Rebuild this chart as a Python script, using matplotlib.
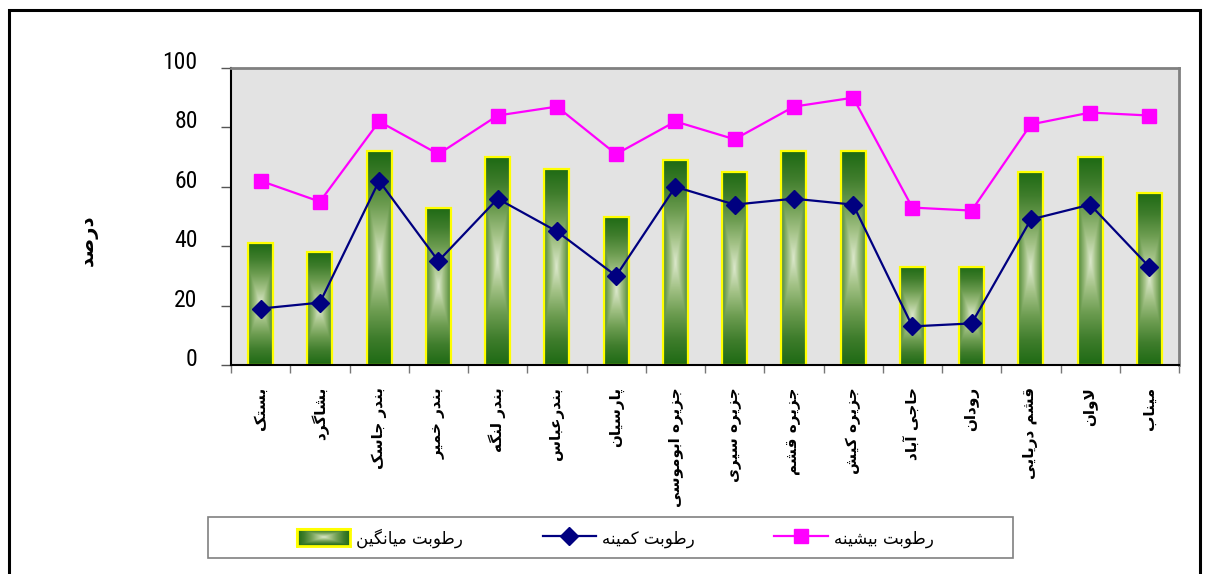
import numpy as np
import matplotlib
matplotlib.use('Agg')
import matplotlib.pyplot as plt
from matplotlib.patches import Rectangle
from matplotlib.lines import Line2D
from matplotlib.colors import LinearSegmentedColormap
from matplotlib.transforms import ScaledTranslation
from matplotlib import font_manager

# data
stations = ['بستک', 'بشاگرد', 'بندر جاسک', 'بندر خمیر', 'بندر لنگه', 'بندرعباس', 'پارسیان',
            'جزیره ابوموسی', 'جزیره سیری', 'جزیره قشم', 'جزیره کیش', 'حاجی آباد', 'رودان',
            'قشم دریایی', 'لاوان', 'میناب']
hum_mean = [41, 38, 72, 53, 70, 66, 50, 69, 65, 72, 72, 33, 33, 65, 70, 58]
hum_min = [19, 21, 62, 35, 56, 45, 30, 60, 54, 56, 54, 13, 14, 49, 54, 33]
hum_max = [62, 55, 82, 71, 84, 87, 71, 82, 76, 87, 90, 53, 52, 81, 85, 84]
yticks = [0, 20, 40, 60, 80, 100]
ylabel = 'درصد'
legend_labels = ['رطوبت میانگین', 'رطوبت کمینه', 'رطوبت بیشینه']

# matplotlib has no arabic shaping, so pick presentation forms by hand
# (isolated, final, initial, medial)
FORMS = {
    'ا': ('\uFE8D', '\uFE8E', None, None),
    'آ': ('\uFE81', '\uFE82', None, None),
    'ب': ('\uFE8F', '\uFE90', '\uFE91', '\uFE92'),
    'پ': ('\uFB56', '\uFB57', '\uFB58', '\uFB59'),
    'ت': ('\uFE95', '\uFE96', '\uFE97', '\uFE98'),
    'ج': ('\uFE9D', '\uFE9E', '\uFE9F', '\uFEA0'),
    'ح': ('\uFEA1', '\uFEA2', '\uFEA3', '\uFEA4'),
    'خ': ('\uFEA5', '\uFEA6', '\uFEA7', '\uFEA8'),
    'د': ('\uFEA9', '\uFEAA', None, None),
    'ر': ('\uFEAD', '\uFEAE', None, None),
    'ز': ('\uFEAF', '\uFEB0', None, None),
    'س': ('\uFEB1', '\uFEB2', '\uFEB3', '\uFEB4'),
    'ش': ('\uFEB5', '\uFEB6', '\uFEB7', '\uFEB8'),
    'ص': ('\uFEB9', '\uFEBA', '\uFEBB', '\uFEBC'),
    'ط': ('\uFEC1', '\uFEC2', '\uFEC3', '\uFEC4'),
    'ع': ('\uFEC9', '\uFECA', '\uFECB', '\uFECC'),
    'ق': ('\uFED5', '\uFED6', '\uFED7', '\uFED8'),
    'ک': ('\uFB8E', '\uFB8F', '\uFB90', '\uFB91'),
    'گ': ('\uFB92', '\uFB93', '\uFB94', '\uFB95'),
    'ل': ('\uFEDD', '\uFEDE', '\uFEDF', '\uFEE0'),
    'م': ('\uFEE1', '\uFEE2', '\uFEE3', '\uFEE4'),
    'ن': ('\uFEE5', '\uFEE6', '\uFEE7', '\uFEE8'),
    'ه': ('\uFEE9', '\uFEEA', '\uFEEB', '\uFEEC'),
    'و': ('\uFEED', '\uFEEE', None, None),
    'ی': ('\uFBFC', '\uFBFD', '\uFBFE', '\uFBFF'),
}
LAMALEF = {'ا': ('\uFEFB', '\uFEFC'), 'آ': ('\uFEF5', '\uFEF6')}


def shape(text):
    out = []
    i, n = 0, len(text)
    while i < n:
        c = text[i]
        if c not in FORMS:
            out.append(c)
            i += 1
            continue
        prev = text[i - 1] if i > 0 else None
        join_prev = prev in FORMS and FORMS[prev][2] is not None
        if c == 'ل' and i + 1 < n and text[i + 1] in LAMALEF:
            lig = LAMALEF[text[i + 1]]
            out.append(lig[1] if join_prev else lig[0])
            i += 2
            continue
        nxt = text[i + 1] if i + 1 < n else None
        join_next = FORMS[c][2] is not None and nxt in FORMS
        iso, fin, ini, med = FORMS[c]
        if join_prev and join_next:
            out.append(med)
        elif join_prev:
            out.append(fin)
        elif join_next:
            out.append(ini)
        else:
            out.append(iso)
        i += 1
    return ''.join(reversed(out))


# narrow font for the y numbers if one is around
names = {f.name for f in font_manager.fontManager.ttflist}
narrow = [n for n in ['Liberation Sans Narrow', 'Arial Narrow', 'Roboto Condensed',
                      'DejaVu Sans Condensed'] if n in names]
num_font = narrow[0] if narrow else 'Liberation Sans'

W, H = 1211, 574
fig = plt.figure(figsize=(W / 100, H / 100), dpi=100)
ax = fig.add_axes([231 / W, 1 - 365 / H, (1179 - 231) / W, (365 - 68) / H])
ax.set_facecolor('#e3e3e3')

x = np.arange(len(stations))
bw = 0.42
bars = ax.bar(x, hum_mean, width=bw, color='#5a8f40', edgecolor='none', zorder=2)

# gradient fill for the bars
gcm = LinearSegmentedColormap.from_list('g', ['#dce8cc', '#a3c286', '#6c9c50', '#3f7d2c', '#1e6a14'])
uu, vv = np.meshgrid(np.linspace(-1, 1, 40), np.linspace(-1, 1, 200))
grad = np.maximum(np.abs(vv), 0.62 * np.abs(uu))
for b in bars:
    x0, w, h = b.get_x(), b.get_width(), b.get_height()
    im = ax.imshow(grad, cmap=gcm, vmin=0, vmax=1, extent=(x0, x0 + w, 0, h),
                   aspect='auto', interpolation='bilinear', zorder=2.1)
    im.set_clip_path(b)
ax.bar(x, hum_mean, width=bw, color='none', edgecolor='#ffff00', linewidth=1.6, zorder=2.2)

ax.plot(x, hum_max, color='#ff00ff', lw=1.6, marker='s', ms=10, zorder=3)
ax.plot(x, hum_min, color='#000080', lw=1.6, marker='D', ms=9, zorder=3)

ax.set_xlim(-0.5, len(stations) - 0.5)
ax.set_ylim(0, 100)
ax.set_aspect('auto')

ax.set_yticks(yticks)
ax.tick_params(axis='y', length=7, width=1, color='#555555', pad=17)
for lab in ax.get_yticklabels():
    lab.set_fontfamily([num_font, 'DejaVu Sans'])
    lab.set_fontsize(17 if narrow else 14)
    lab.set_transform(lab.get_transform() + ScaledTranslation(0, 0.08, fig.dpi_scale_trans))

ax.set_xticks(x)
ax.set_xticklabels([shape(s) for s in stations], rotation=90, fontsize=11,
                   fontweight='bold', va='top', ha='center')
ax.tick_params(axis='x', which='major', length=0, pad=16)
ax.set_xticks(np.arange(len(stations) + 1) - 0.5, minor=True)
ax.tick_params(axis='x', which='minor', length=6, width=1, color='#777777')

for s in ['left', 'bottom']:
    ax.spines[s].set_color('black')
    ax.spines[s].set_linewidth(1.5)
for s in ['top', 'right']:
    ax.spines[s].set_color('#808080')
    ax.spines[s].set_linewidth(2)

fig.text(88 / W, 1 - 240 / H, shape(ylabel), rotation=90, fontsize=14, fontweight='bold',
         ha='center', va='center')

# outer frame
fig.patches.append(Rectangle((9 / W, -0.05), (1200 - 9) / W, 1.05 - 10 / H,
                             transform=fig.transFigure, fill=False, ec='black', lw=2.2))

# legend
handles = [Rectangle((0, 0), 1, 1, fc='#6c9c50', ec='#ffff00', lw=1.5),
           Line2D([], [], color='#000080', lw=1.6, marker='D', ms=9),
           Line2D([], [], color='#ff00ff', lw=1.6, marker='s', ms=10)]
leg = fig.legend(handles, [shape(s) for s in legend_labels], ncol=3, loc='center',
                 bbox_to_anchor=(615 / W, 1 - 538 / H), frameon=False, fontsize=12,
                 handlelength=3.2, handleheight=1.2, handletextpad=0.35, columnspacing=4.8)
fig.patches.append(Rectangle((208 / W, 1 - 558 / H), (1013 - 208) / W, 41 / H,
                             transform=fig.transFigure, fill=True, fc='white', ec='#808080',
                             lw=1.2, zorder=0))

fig.canvas.draw()
bb = leg.legend_handles[0].get_window_extent()
sax = fig.add_axes([bb.x0 / W, bb.y0 / H, bb.width / W, bb.height / H])
sax.set_zorder(10)
su, sv = np.meshgrid(np.linspace(-1, 1, 60), np.linspace(-1, 1, 24))
sax.imshow(np.maximum(np.abs(su), np.abs(sv)), cmap=gcm, vmin=0, vmax=1, aspect='auto',
           interpolation='bilinear')
sax.set_xticks([])
sax.set_yticks([])
for s in sax.spines.values():
    s.set_color('#ffff00')
    s.set_linewidth(2)

fig.savefig('out.png', dpi=100)
